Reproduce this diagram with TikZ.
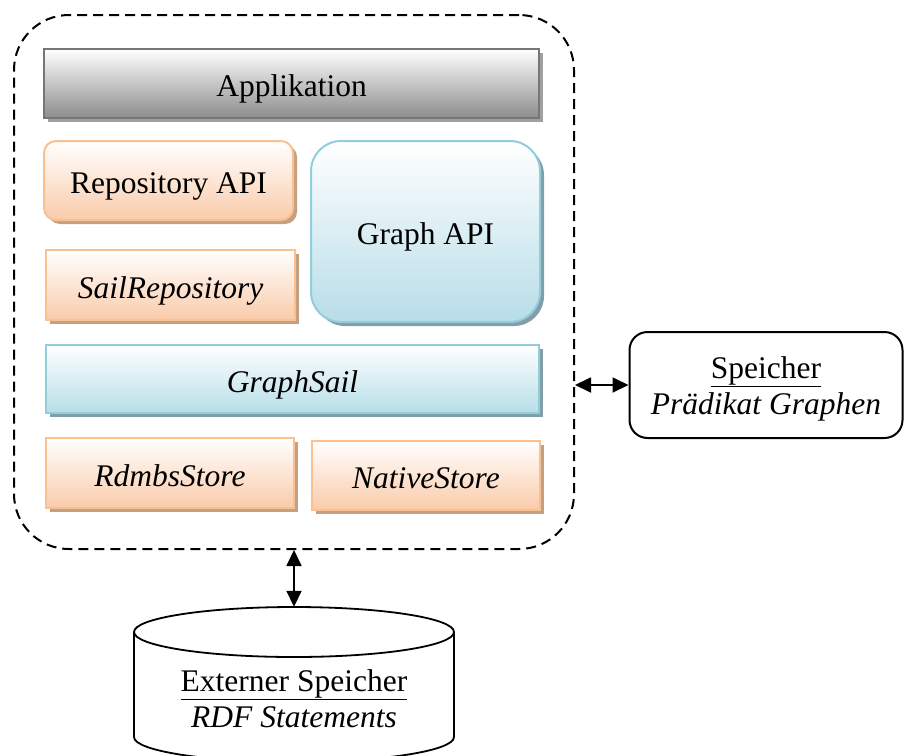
\documentclass[tikz,border=0pt]{standalone}
\usepackage{fontspec}
\setmainfont{Liberation Serif}
\usetikzlibrary{arrows.meta,shadows}
\definecolor{orBorder}{RGB}{250,192,144}
\definecolor{orFill}{RGB}{250,203,170}
\definecolor{orShadow}{RGB}{196,160,130}
\definecolor{blBorder}{RGB}{146,205,220}
\definecolor{blFill}{RGB}{183,221,232}
\definecolor{blShadow}{RGB}{130,158,168}
\definecolor{grBorder}{RGB}{118,118,118}
\definecolor{grFill}{RGB}{140,140,140}
\definecolor{grShadow}{RGB}{160,160,160}
\tikzset{
  layer/.style={inner sep=0pt, line width=2pt, align=center, text height=26pt, text depth=0pt},
  orbox/.style={layer, draw=orBorder, top color=white, bottom color=orFill,
    drop shadow={shadow xshift=4pt, shadow yshift=-4pt, fill=orShadow, opacity=1}},
  blbox/.style={layer, draw=blBorder, top color=white, bottom color=blFill,
    drop shadow={shadow xshift=4pt, shadow yshift=-4pt, fill=blShadow, opacity=1}},
  grbox/.style={layer, draw=grBorder, top color=white, bottom color=grFill,
    drop shadow={shadow xshift=4pt, shadow yshift=-4pt, fill=grShadow, opacity=1}},
  container/.style={draw, line width=2pt, dash pattern=on 10pt off 6pt, rounded corners=55pt, inner sep=0pt},
  storebox/.style={draw, line width=2pt, rounded corners=18pt, inner sep=0pt, align=center},
  biarrow/.style={line width=1.8pt, {Triangle[length=16pt,width=15pt]}-{Triangle[length=16pt,width=15pt]}},
  plain/.style={inner sep=0pt, align=center}
}
\begin{document}
\begin{tikzpicture}[x=1pt,y=-1pt,font=\fontsize{31.5}{36}\selectfont]
\useasboundingbox (0,0) rectangle (904,755);
\clip (0,0) rectangle (904,755);
% container
\node[container, minimum width=560pt, minimum height=534pt] (cont) at (294,282) {};
% layers
\node[grbox, minimum width=495pt, minimum height=69pt] (app) at (291.5,83.5) {Applikation};
\node[orbox, rounded corners=12pt, minimum width=249pt, minimum height=79pt] (repo) at (168.5,180.5) {Repository API};
\node[orbox, minimum width=249pt, minimum height=70pt] (sailrepo) at (170.5,285) {\textit{SailRepository}};
\node[blbox, rounded corners=30pt, minimum width=229pt, minimum height=181pt] (graph) at (425.5,231.5) {Graph API};
\node[blbox, minimum width=493pt, minimum height=68pt] (gsail) at (292.5,379) {\textit{GraphSail}};
\node[orbox, minimum width=248pt, minimum height=70pt] (rdbms) at (170,473) {\textit{RdmbsStore}};
\node[orbox, minimum width=228pt, minimum height=69pt] (native) at (426,475.5) {\textit{NativeStore}};
% Speicher
\node[storebox, minimum width=273pt, minimum height=106pt] (spe) at (766,385) {};
\node[plain, anchor=base] (spetext) at (766,414) {\underline{Speicher}\\\textit{Prädikat Graphen}};
% cylinder
\node[inner sep=0pt, minimum width=320pt, minimum height=155pt] (db) at (294,684.5) {};
\draw[line width=1.8pt, fill=white] (134,632) -- (134,737) arc[start angle=180, end angle=0, x radius=160, y radius=25] -- (454,632);
\draw[line width=1.8pt] (294,632) ellipse [x radius=160, y radius=25];
\node[plain, anchor=base] (dbtext) at (294,727) {\underline{Externer Speicher}\\\textit{RDF Statements}};
% arrows
\draw[biarrow] (cont.east |- spe.west) -- (spe.west);
\draw[biarrow] (cont.south) -- (db.north);
\end{tikzpicture}
\end{document}
